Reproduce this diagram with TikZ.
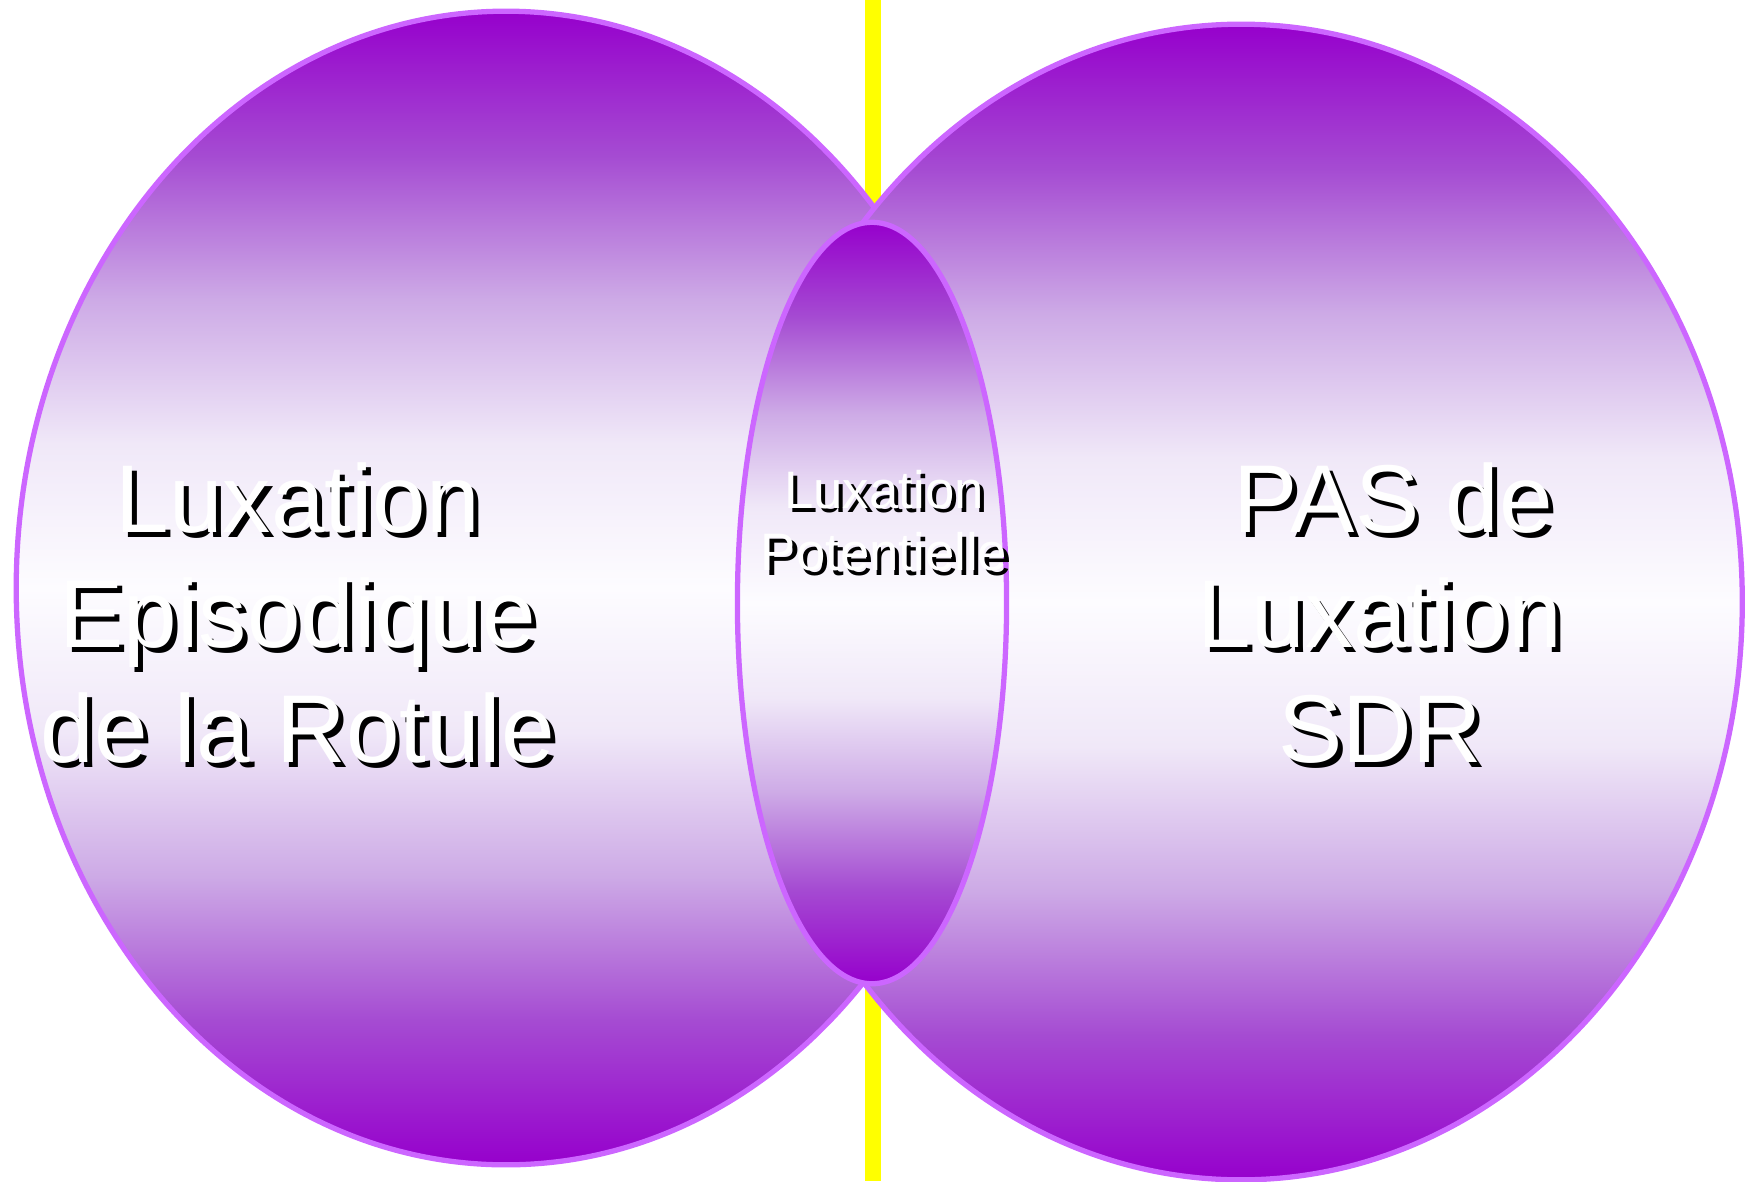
\documentclass[tikz,border=0pt]{standalone}
\usepackage{fontspec}
\setmainfont{Liberation Sans}
\usetikzlibrary{shapes.geometric}
\definecolor{blob_purple}{RGB}{150,0,204}
\definecolor{blob_mid}{RGB}{165,75,210}
\definecolor{blob_light}{RGB}{205,170,230}
\definecolor{blob_pale}{RGB}{240,232,248}
\definecolor{blob_white}{RGB}{253,252,255}
\definecolor{edge_purple}{RGB}{204,102,255}
\definecolor{bar_yellow}{RGB}{255,255,0}
\pgfdeclareverticalshading{blobfade}{100bp}{color(0bp)=(blob_purple); color(25bp)=(blob_purple);
  color(31.25bp)=(blob_mid); color(37.5bp)=(blob_light); color(43.75bp)=(blob_pale); color(50bp)=(blob_white);
  color(56.25bp)=(blob_pale); color(62.5bp)=(blob_light); color(68.75bp)=(blob_mid); color(75bp)=(blob_purple);
  color(100bp)=(blob_purple)}

\begin{document}
\begin{tikzpicture}[x=0.01cm,y=-0.01cm,line width=1.5pt]
    \tikzstyle{blob}=[ellipse, draw=edge_purple, shading=blobfade, inner sep=0pt]
    \tikzstyle{bigtxt}=[align=center, text=white, inner sep=0pt, font=\fontsize{27.4}{32.8}\selectfont]
    \tikzstyle{smalltxt}=[align=center, text=white, inner sep=0pt, font=\fontsize{15}{17.7}\selectfont]
    \tikzstyle{back}=[text=black, xshift=1.4pt, yshift=-1.4pt]

    \useasboundingbox (0,0) rectangle (1745,1181);

    % yellow bar behind
    \coordinate (bar_top) at (873,0);
    \coordinate (bar_bot) at (873,1181);
    \draw[bar_yellow, line width=4.5pt] (bar_top) -- (bar_bot);

    \node[blob, minimum width=9.79cm,  minimum height=11.53cm] (left)  at (506,588) {};
    \node[blob, minimum width=10.02cm, minimum height=11.55cm] (right) at (1241,602) {};
    \node[blob, minimum width=2.69cm,  minimum height=7.61cm]  (mid)   at (872,603) {};

    % labels, black copy first
    \node[bigtxt, back] (left_shadow) at (298,613) {Luxation\\Episodique\\de la Rotule};
    \node[bigtxt]       (left_label)  at (298,613) {Luxation\\Episodique\\de la Rotule};
    \node[bigtxt, back] (right_shadow) at (1380,613) {\hspace*{0.278em}PAS de\\Luxation\\SDR};
    \node[bigtxt]       (right_label)  at (1380,613) {\hspace*{0.278em}PAS de\\Luxation\\SDR};
    \node[smalltxt, back, xshift=-0.2pt, yshift=0.2pt] (mid_shadow) at (884,521) {Luxation\\Potentielle};
    \node[smalltxt]       (mid_label)  at (884,521) {Luxation\\Potentielle};
\end{tikzpicture}
\end{document}
